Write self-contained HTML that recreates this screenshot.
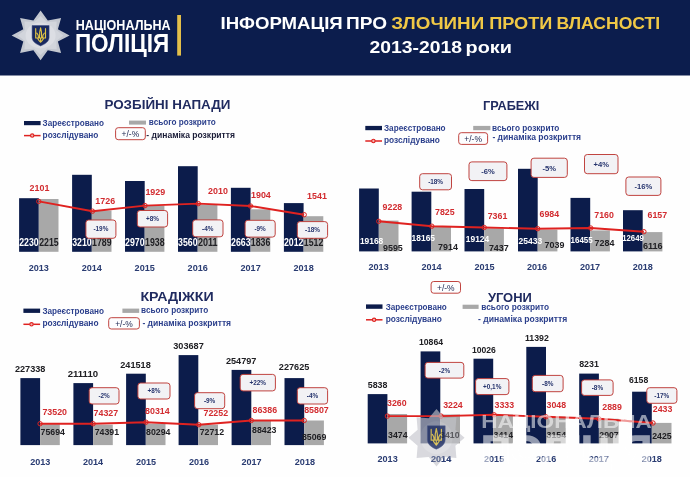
<!DOCTYPE html>
<html lang="uk"><head><meta charset="utf-8"><title>Інформація про злочини проти власності</title>
<style>html,body{margin:0;padding:0;background:#fff}svg{display:block}</style></head>
<body>
<svg width="690" height="477" viewBox="0 0 690 477" font-family="Liberation Sans, sans-serif">
<rect width="690" height="477" fill="#fefefe"/>
<rect width="690" height="75.5" fill="#0c1d4d"/>
<polygon points="40.6,10.6 47.8,20.6 61.1,17.9 57.9,29.3 69.6,35.4 57.9,41.5 61.1,52.9 47.8,50.2 40.6,60.2 33.4,50.2 20.1,52.9 23.3,41.5 11.6,35.4 23.3,29.3 20.1,17.9 33.4,20.6" fill="#c3c7d0"/>
<polygon points="40.6,15.9 47.1,22.0 56.7,21.6 56.3,29.9 63.4,35.4 56.3,40.9 56.7,49.2 47.1,48.8 40.6,54.9 34.1,48.8 24.5,49.2 24.9,40.9 17.8,35.4 24.9,29.9 24.5,21.6 34.1,22.0" fill="#d2d5dc"/>
<ellipse cx="40.6" cy="35.4" rx="15" ry="13" fill="#dcdee4"/>
<path d="M32.1 25.5H49.1V37.3C49.1 42.2 44.0 44.5 40.6 45.9C37.2 44.5 32.1 42.2 32.1 37.3Z" fill="#1a2a60" stroke="#3a4a82" stroke-width="0.5"/>
<g transform="translate(40.60 27.54) scale(0.907 0.918)"><path d="M-5.4 1.2V11.4H-2.3C-2.2 9.2-2.7 7.4-4.1 6.1M5.4 1.2V11.4H2.3C2.2 9.2 2.700 7.4 4.1 6.1M0 0.4C-1 3.400-1.400 7-1.200 11.4H1.200C1.400 7 1 3.400 0 0.4ZM-3.300 11.4C-3.100 13.4-1.500 14.100 0 16C1.500 14.100 3.100 13.4 3.300 11.4M0 12.300V15" fill="none" stroke="#e2c544" stroke-width="1.25" stroke-linejoin="round" stroke-linecap="round"/></g>
<text x="75.8" y="29.9" font-size="14.2" fill="#fff" text-anchor="start" font-weight="bold" textLength="94.8" lengthAdjust="spacingAndGlyphs">НАЦІОНАЛЬНА</text>
<text x="74.9" y="51.5" font-size="25.4" fill="#fff" text-anchor="start" font-weight="bold" textLength="94.3" lengthAdjust="spacingAndGlyphs">ПОЛІЦІЯ</text>
<rect x="177.2" y="15.0" width="3.8" height="40.6" fill="#e3bf4a"/>
<text x="220.5" y="28.9" font-size="17" fill="#fff" text-anchor="start" font-weight="bold" textLength="122.2" lengthAdjust="spacingAndGlyphs">ІНФОРМАЦІЯ</text>
<text x="346.0" y="28.9" font-size="17" fill="#fff" text-anchor="start" font-weight="bold" textLength="41.0" lengthAdjust="spacingAndGlyphs">ПРО</text>
<text x="391.3" y="28.9" font-size="17" fill="#f0c846" text-anchor="start" font-weight="bold" textLength="92.9" lengthAdjust="spacingAndGlyphs">ЗЛОЧИНИ</text>
<text x="489.2" y="28.9" font-size="17" fill="#f0c846" text-anchor="start" font-weight="bold" textLength="63.2" lengthAdjust="spacingAndGlyphs">ПРОТИ</text>
<text x="556.4" y="28.9" font-size="17" fill="#f0c846" text-anchor="start" font-weight="bold" textLength="103.8" lengthAdjust="spacingAndGlyphs">ВЛАСНОСТІ</text>
<text x="369.6" y="53.3" font-size="17" fill="#fff" text-anchor="start" font-weight="bold" textLength="92.4" lengthAdjust="spacingAndGlyphs">2013-2018</text>
<text x="465.5" y="53.3" font-size="17" fill="#fff" text-anchor="start" font-weight="bold" textLength="46.4" lengthAdjust="spacingAndGlyphs">роки</text>
<text x="104.4" y="109.0" font-size="13.7" fill="#202b60" text-anchor="start" font-weight="bold" textLength="126.1" lengthAdjust="spacingAndGlyphs">РОЗБІЙНІ НАПАДИ</text>
<rect x="24.0" y="121.0" width="16.6" height="4.2" fill="#0c1c4b"/>
<rect x="129.0" y="120.6" width="17.0" height="4.0" fill="#a8a8a8"/>
<line x1="24" y1="135.6" x2="40.6" y2="135.6" stroke="#df2220" stroke-width="1.5"/>
<circle cx="32.2" cy="135.6" r="1.7" fill="#f3b4b0" stroke="#df2220" stroke-width="1.1"/>
<text x="42.6" y="126.3" font-size="9" fill="#2b3f8c" text-anchor="start" font-weight="bold" textLength="61.4" lengthAdjust="spacingAndGlyphs">Зареєстровано</text>
<text x="148.8" y="125.2" font-size="9" fill="#2b3f8c" text-anchor="start" font-weight="bold" textLength="67.0" lengthAdjust="spacingAndGlyphs">всього розкрито</text>
<text x="42.6" y="137.7" font-size="9" fill="#2b3f8c" text-anchor="start" font-weight="bold" textLength="55.8" lengthAdjust="spacingAndGlyphs">розслідувано</text>
<text x="146.3" y="138.0" font-size="8.5" fill="#1b1d38" text-anchor="start" font-weight="bold" textLength="88.7" lengthAdjust="spacingAndGlyphs">- динаміка розкриття</text>
<rect x="115.6" y="127.7" width="29.7" height="12.0" rx="2.6" fill="#fdfdfe" stroke="#bd3a36" stroke-width="0.95"/>
<text x="130.4" y="137.1" font-size="8.8" fill="#1a2450" text-anchor="middle" font-weight="normal" textLength="17.6" lengthAdjust="spacingAndGlyphs">+/-%</text>
<rect x="19.1" y="198.2" width="19.7" height="53.6" fill="#0c1c4b"/>
<rect x="72.1" y="174.8" width="19.7" height="77.0" fill="#0c1c4b"/>
<rect x="125.0" y="181.0" width="19.7" height="70.8" fill="#0c1c4b"/>
<rect x="178.0" y="166.2" width="19.7" height="85.6" fill="#0c1c4b"/>
<rect x="230.9" y="187.8" width="19.7" height="64.0" fill="#0c1c4b"/>
<rect x="283.9" y="203.1" width="19.7" height="48.7" fill="#0c1c4b"/>
<rect x="38.8" y="199.0" width="19.7" height="52.8" fill="#a8a8a8"/>
<rect x="91.8" y="210.5" width="19.7" height="41.3" fill="#a8a8a8"/>
<rect x="144.7" y="205.6" width="19.7" height="46.2" fill="#a8a8a8"/>
<rect x="197.7" y="204.6" width="19.7" height="47.2" fill="#a8a8a8"/>
<rect x="250.6" y="209.3" width="19.7" height="42.5" fill="#a8a8a8"/>
<rect x="303.6" y="216.2" width="19.7" height="35.6" fill="#a8a8a8"/>
<polyline points="38.8,201.4 92.5,211.2 145.0,205.6 198.3,203.6 250.5,206.0 304.2,214.7" fill="none" stroke="#df2220" stroke-width="1.9" stroke-linejoin="round"/>
<circle cx="38.8" cy="201.4" r="2.2" fill="none" stroke="#df2220" stroke-width="1"/>
<circle cx="92.5" cy="211.2" r="2.2" fill="none" stroke="#df2220" stroke-width="1"/>
<circle cx="145.0" cy="205.6" r="2.2" fill="none" stroke="#df2220" stroke-width="1"/>
<circle cx="198.3" cy="203.6" r="2.2" fill="none" stroke="#df2220" stroke-width="1"/>
<circle cx="250.5" cy="206.0" r="2.2" fill="none" stroke="#df2220" stroke-width="1"/>
<circle cx="304.2" cy="214.7" r="2.2" fill="none" stroke="#df2220" stroke-width="1"/>
<text x="29.0" y="245.7" font-size="10.3" fill="#fff" text-anchor="middle" font-weight="bold" textLength="19.5" lengthAdjust="spacingAndGlyphs">2230</text>
<text x="48.9" y="245.7" font-size="10.3" fill="#202024" text-anchor="middle" font-weight="bold" textLength="19.5" lengthAdjust="spacingAndGlyphs">2215</text>
<text x="81.9" y="245.7" font-size="10.3" fill="#fff" text-anchor="middle" font-weight="bold" textLength="19.5" lengthAdjust="spacingAndGlyphs">3210</text>
<text x="101.8" y="245.7" font-size="10.3" fill="#202024" text-anchor="middle" font-weight="bold" textLength="19.5" lengthAdjust="spacingAndGlyphs">1789</text>
<text x="134.8" y="245.7" font-size="10.3" fill="#fff" text-anchor="middle" font-weight="bold" textLength="19.5" lengthAdjust="spacingAndGlyphs">2970</text>
<text x="154.8" y="245.7" font-size="10.3" fill="#202024" text-anchor="middle" font-weight="bold" textLength="19.5" lengthAdjust="spacingAndGlyphs">1938</text>
<text x="187.8" y="245.7" font-size="10.3" fill="#fff" text-anchor="middle" font-weight="bold" textLength="19.5" lengthAdjust="spacingAndGlyphs">3560</text>
<text x="207.7" y="245.7" font-size="10.3" fill="#202024" text-anchor="middle" font-weight="bold" textLength="19.5" lengthAdjust="spacingAndGlyphs">2011</text>
<text x="240.8" y="245.7" font-size="10.3" fill="#fff" text-anchor="middle" font-weight="bold" textLength="19.5" lengthAdjust="spacingAndGlyphs">2663</text>
<text x="260.6" y="245.7" font-size="10.3" fill="#202024" text-anchor="middle" font-weight="bold" textLength="19.5" lengthAdjust="spacingAndGlyphs">1836</text>
<text x="293.7" y="245.7" font-size="10.3" fill="#fff" text-anchor="middle" font-weight="bold" textLength="19.5" lengthAdjust="spacingAndGlyphs">2012</text>
<text x="313.6" y="245.7" font-size="10.3" fill="#202024" text-anchor="middle" font-weight="bold" textLength="19.5" lengthAdjust="spacingAndGlyphs">1512</text>
<text x="39.5" y="190.7" font-size="9.6" fill="#d22c30" text-anchor="middle" font-weight="bold" textLength="19.8" lengthAdjust="spacingAndGlyphs">2101</text>
<text x="105.2" y="203.8" font-size="9.6" fill="#d22c30" text-anchor="middle" font-weight="bold" textLength="19.8" lengthAdjust="spacingAndGlyphs">1726</text>
<text x="155.3" y="194.6" font-size="9.6" fill="#d22c30" text-anchor="middle" font-weight="bold" textLength="19.8" lengthAdjust="spacingAndGlyphs">1929</text>
<text x="218.0" y="193.8" font-size="9.6" fill="#d22c30" text-anchor="middle" font-weight="bold" textLength="19.8" lengthAdjust="spacingAndGlyphs">2010</text>
<text x="260.9" y="197.5" font-size="9.6" fill="#d22c30" text-anchor="middle" font-weight="bold" textLength="19.8" lengthAdjust="spacingAndGlyphs">1904</text>
<text x="317.0" y="198.9" font-size="9.6" fill="#d22c30" text-anchor="middle" font-weight="bold" textLength="19.8" lengthAdjust="spacingAndGlyphs">1541</text>
<rect x="85.9" y="220.0" width="30.0" height="18.3" rx="2.8" fill="#f2f2f5" stroke="#bd3a36" stroke-width="0.95"/>
<text x="100.9" y="231.4" font-size="6.4" fill="#27356e" text-anchor="middle" font-weight="bold">-19%</text>
<rect x="137.3" y="210.5" width="30.3" height="16.5" rx="2.8" fill="#f2f2f5" stroke="#bd3a36" stroke-width="0.95"/>
<text x="152.4" y="221.0" font-size="6.4" fill="#27356e" text-anchor="middle" font-weight="bold">+8%</text>
<rect x="192.7" y="219.9" width="30.3" height="16.9" rx="2.8" fill="#f2f2f5" stroke="#bd3a36" stroke-width="0.95"/>
<text x="207.8" y="230.6" font-size="6.4" fill="#27356e" text-anchor="middle" font-weight="bold">-4%</text>
<rect x="245.1" y="220.3" width="30.1" height="16.8" rx="2.8" fill="#f2f2f5" stroke="#bd3a36" stroke-width="0.95"/>
<text x="260.1" y="231.0" font-size="6.4" fill="#27356e" text-anchor="middle" font-weight="bold">-9%</text>
<rect x="297.3" y="221.6" width="30.3" height="16.7" rx="2.8" fill="#f2f2f5" stroke="#bd3a36" stroke-width="0.95"/>
<text x="312.5" y="232.2" font-size="6.4" fill="#27356e" text-anchor="middle" font-weight="bold">-18%</text>
<text x="38.8" y="270.9" font-size="9.3" fill="#2a3c72" text-anchor="middle" font-weight="bold" textLength="20.2" lengthAdjust="spacingAndGlyphs">2013</text>
<text x="91.8" y="270.9" font-size="9.3" fill="#2a3c72" text-anchor="middle" font-weight="bold" textLength="20.2" lengthAdjust="spacingAndGlyphs">2014</text>
<text x="144.7" y="270.9" font-size="9.3" fill="#2a3c72" text-anchor="middle" font-weight="bold" textLength="20.2" lengthAdjust="spacingAndGlyphs">2015</text>
<text x="197.7" y="270.9" font-size="9.3" fill="#2a3c72" text-anchor="middle" font-weight="bold" textLength="20.2" lengthAdjust="spacingAndGlyphs">2016</text>
<text x="250.6" y="270.9" font-size="9.3" fill="#2a3c72" text-anchor="middle" font-weight="bold" textLength="20.2" lengthAdjust="spacingAndGlyphs">2017</text>
<text x="303.6" y="270.9" font-size="9.3" fill="#2a3c72" text-anchor="middle" font-weight="bold" textLength="20.2" lengthAdjust="spacingAndGlyphs">2018</text>
<text x="483.0" y="109.9" font-size="13.7" fill="#202b60" text-anchor="start" font-weight="bold" textLength="56.2" lengthAdjust="spacingAndGlyphs">ГРАБЕЖІ</text>
<rect x="365.3" y="125.9" width="16.7" height="4.3" fill="#0c1c4b"/>
<rect x="473.2" y="125.9" width="17.2" height="4.3" fill="#a8a8a8"/>
<line x1="365.3" y1="141" x2="382" y2="141" stroke="#df2220" stroke-width="1.5"/>
<circle cx="373.4" cy="141" r="1.7" fill="#f3b4b0" stroke="#df2220" stroke-width="1.1"/>
<text x="384.0" y="131.4" font-size="9" fill="#2b3f8c" text-anchor="start" font-weight="bold" textLength="61.6" lengthAdjust="spacingAndGlyphs">Зареєстровано</text>
<text x="492.1" y="130.6" font-size="9" fill="#2b3f8c" text-anchor="start" font-weight="bold" textLength="67.3" lengthAdjust="spacingAndGlyphs">всього розкрито</text>
<text x="384.0" y="143.0" font-size="9" fill="#2b3f8c" text-anchor="start" font-weight="bold" textLength="55.9" lengthAdjust="spacingAndGlyphs">розслідувано</text>
<text x="492.4" y="140.0" font-size="8.5" fill="#2b3f8c" text-anchor="start" font-weight="bold" textLength="88.7" lengthAdjust="spacingAndGlyphs">- динаміка розкриття</text>
<rect x="458.7" y="132.7" width="28.9" height="11.7" rx="2.6" fill="#fdfdfe" stroke="#bd3a36" stroke-width="0.95"/>
<text x="473.1" y="141.9" font-size="8.8" fill="#1a2450" text-anchor="middle" font-weight="normal" textLength="17.6" lengthAdjust="spacingAndGlyphs">+/-%</text>
<rect x="359.1" y="188.5" width="19.7" height="62.9" fill="#0c1c4b"/>
<rect x="411.6" y="191.7" width="19.7" height="59.7" fill="#0c1c4b"/>
<rect x="464.5" y="189.0" width="19.7" height="62.4" fill="#0c1c4b"/>
<rect x="518.0" y="168.8" width="19.7" height="82.6" fill="#0c1c4b"/>
<rect x="570.5" y="197.9" width="19.7" height="53.5" fill="#0c1c4b"/>
<rect x="623.0" y="210.2" width="19.7" height="41.2" fill="#0c1c4b"/>
<rect x="378.8" y="220.6" width="19.7" height="30.8" fill="#a8a8a8"/>
<rect x="431.3" y="226.7" width="19.7" height="24.7" fill="#a8a8a8"/>
<rect x="484.2" y="228.4" width="19.7" height="23.0" fill="#a8a8a8"/>
<rect x="537.7" y="229.7" width="19.7" height="21.7" fill="#a8a8a8"/>
<rect x="590.2" y="230.4" width="19.7" height="21.0" fill="#a8a8a8"/>
<rect x="642.7" y="232.1" width="19.7" height="19.3" fill="#a8a8a8"/>
<polyline points="378.8,221.3 431.8,226.2 484.2,227.5 537.7,228.7 590.7,228.0 643.9,231.7" fill="none" stroke="#df2220" stroke-width="1.9" stroke-linejoin="round"/>
<circle cx="378.8" cy="221.3" r="2.2" fill="none" stroke="#df2220" stroke-width="1"/>
<circle cx="431.8" cy="226.2" r="2.2" fill="none" stroke="#df2220" stroke-width="1"/>
<circle cx="484.2" cy="227.5" r="2.2" fill="none" stroke="#df2220" stroke-width="1"/>
<circle cx="537.7" cy="228.7" r="2.2" fill="none" stroke="#df2220" stroke-width="1"/>
<circle cx="590.7" cy="228.0" r="2.2" fill="none" stroke="#df2220" stroke-width="1"/>
<circle cx="643.9" cy="231.7" r="2.2" fill="none" stroke="#df2220" stroke-width="1"/>
<text x="359.9" y="243.6" font-size="9.6" fill="#fff" text-anchor="start" font-weight="bold" textLength="23.4" lengthAdjust="spacingAndGlyphs">19168</text>
<text x="411.6" y="240.9" font-size="9.6" fill="#fff" text-anchor="start" font-weight="bold" textLength="23.4" lengthAdjust="spacingAndGlyphs">18165</text>
<text x="465.8" y="242.1" font-size="9.6" fill="#fff" text-anchor="start" font-weight="bold" textLength="23.4" lengthAdjust="spacingAndGlyphs">19124</text>
<text x="518.5" y="243.9" font-size="9.6" fill="#fff" text-anchor="start" font-weight="bold" textLength="23.7" lengthAdjust="spacingAndGlyphs">25433</text>
<text x="570.5" y="243.4" font-size="9.6" fill="#fff" text-anchor="start" font-weight="bold" textLength="22.2" lengthAdjust="spacingAndGlyphs">16455</text>
<text x="622.2" y="241.0" font-size="9.6" fill="#fff" text-anchor="start" font-weight="bold" textLength="21.7" lengthAdjust="spacingAndGlyphs">12649</text>
<text x="392.9" y="251.4" font-size="9.6" fill="#202024" text-anchor="middle" font-weight="bold" textLength="19.8" lengthAdjust="spacingAndGlyphs">9595</text>
<text x="448.0" y="250.2" font-size="9.6" fill="#202024" text-anchor="middle" font-weight="bold" textLength="19.8" lengthAdjust="spacingAndGlyphs">7914</text>
<text x="498.8" y="251.4" font-size="9.6" fill="#202024" text-anchor="middle" font-weight="bold" textLength="19.8" lengthAdjust="spacingAndGlyphs">7437</text>
<text x="554.5" y="248.4" font-size="9.6" fill="#202024" text-anchor="middle" font-weight="bold" textLength="19.8" lengthAdjust="spacingAndGlyphs">7039</text>
<text x="604.5" y="246.4" font-size="9.6" fill="#202024" text-anchor="middle" font-weight="bold" textLength="19.8" lengthAdjust="spacingAndGlyphs">7284</text>
<text x="652.8" y="248.9" font-size="9.6" fill="#202024" text-anchor="middle" font-weight="bold" textLength="19.8" lengthAdjust="spacingAndGlyphs">6116</text>
<text x="392.4" y="210.0" font-size="9.6" fill="#d22c30" text-anchor="middle" font-weight="bold" textLength="19.6" lengthAdjust="spacingAndGlyphs">9228</text>
<text x="444.8" y="215.0" font-size="9.6" fill="#d22c30" text-anchor="middle" font-weight="bold" textLength="19.6" lengthAdjust="spacingAndGlyphs">7825</text>
<text x="497.5" y="218.9" font-size="9.6" fill="#d22c30" text-anchor="middle" font-weight="bold" textLength="19.6" lengthAdjust="spacingAndGlyphs">7361</text>
<text x="549.3" y="216.9" font-size="9.6" fill="#d22c30" text-anchor="middle" font-weight="bold" textLength="19.6" lengthAdjust="spacingAndGlyphs">6984</text>
<text x="604.1" y="217.7" font-size="9.6" fill="#d22c30" text-anchor="middle" font-weight="bold" textLength="19.6" lengthAdjust="spacingAndGlyphs">7160</text>
<text x="657.3" y="218.3" font-size="9.6" fill="#d22c30" text-anchor="middle" font-weight="bold" textLength="19.6" lengthAdjust="spacingAndGlyphs">6157</text>
<rect x="419.7" y="173.7" width="31.8" height="16.1" rx="2.8" fill="#f2f2f5" stroke="#bd3a36" stroke-width="0.95"/>
<text x="435.6" y="184.0" font-size="6.4" fill="#27356e" text-anchor="middle" font-weight="bold">-18%</text>
<rect x="469.0" y="161.9" width="37.9" height="18.7" rx="2.8" fill="#f2f2f5" stroke="#bd3a36" stroke-width="0.95"/>
<text x="487.9" y="174.0" font-size="7.6" fill="#27356e" text-anchor="middle" font-weight="bold">-6%</text>
<rect x="531.1" y="158.2" width="36.2" height="19.2" rx="2.8" fill="#f2f2f5" stroke="#bd3a36" stroke-width="0.95"/>
<text x="549.2" y="170.5" font-size="7.6" fill="#27356e" text-anchor="middle" font-weight="bold">-5%</text>
<rect x="584.5" y="154.5" width="33.5" height="19.2" rx="2.8" fill="#f2f2f5" stroke="#bd3a36" stroke-width="0.95"/>
<text x="601.2" y="166.8" font-size="7.6" fill="#27356e" text-anchor="middle" font-weight="bold">+4%</text>
<rect x="625.9" y="177.0" width="35.0" height="18.4" rx="2.8" fill="#f2f2f5" stroke="#bd3a36" stroke-width="0.95"/>
<text x="643.4" y="188.9" font-size="7.6" fill="#27356e" text-anchor="middle" font-weight="bold">-16%</text>
<text x="378.6" y="270.4" font-size="9.3" fill="#2a3c72" text-anchor="middle" font-weight="bold" textLength="20.2" lengthAdjust="spacingAndGlyphs">2013</text>
<text x="431.5" y="270.4" font-size="9.3" fill="#2a3c72" text-anchor="middle" font-weight="bold" textLength="20.2" lengthAdjust="spacingAndGlyphs">2014</text>
<text x="484.5" y="270.4" font-size="9.3" fill="#2a3c72" text-anchor="middle" font-weight="bold" textLength="20.2" lengthAdjust="spacingAndGlyphs">2015</text>
<text x="537.0" y="270.4" font-size="9.3" fill="#2a3c72" text-anchor="middle" font-weight="bold" textLength="20.2" lengthAdjust="spacingAndGlyphs">2016</text>
<text x="590.0" y="270.4" font-size="9.3" fill="#2a3c72" text-anchor="middle" font-weight="bold" textLength="20.2" lengthAdjust="spacingAndGlyphs">2017</text>
<text x="642.8" y="270.4" font-size="9.3" fill="#2a3c72" text-anchor="middle" font-weight="bold" textLength="20.2" lengthAdjust="spacingAndGlyphs">2018</text>
<text x="140.4" y="300.9" font-size="13.7" fill="#202b60" text-anchor="start" font-weight="bold" textLength="73.2" lengthAdjust="spacingAndGlyphs">КРАДІЖКИ</text>
<rect x="23.4" y="308.6" width="16.7" height="4.3" fill="#0c1c4b"/>
<rect x="122.4" y="308.6" width="16.8" height="4.3" fill="#a8a8a8"/>
<line x1="23.4" y1="324.3" x2="40.1" y2="324.3" stroke="#df2220" stroke-width="1.5"/>
<circle cx="31.5" cy="324.3" r="1.7" fill="#f3b4b0" stroke="#df2220" stroke-width="1.1"/>
<text x="42.4" y="314.0" font-size="9" fill="#2b3f8c" text-anchor="start" font-weight="bold" textLength="61.5" lengthAdjust="spacingAndGlyphs">Зареєстровано</text>
<text x="141.1" y="313.3" font-size="9" fill="#2b3f8c" text-anchor="start" font-weight="bold" textLength="67.1" lengthAdjust="spacingAndGlyphs">всього розкрито</text>
<text x="42.4" y="326.3" font-size="9" fill="#2b3f8c" text-anchor="start" font-weight="bold" textLength="56.1" lengthAdjust="spacingAndGlyphs">розслідувано</text>
<text x="142.4" y="325.6" font-size="8.5" fill="#2b3f8c" text-anchor="start" font-weight="bold" textLength="88.7" lengthAdjust="spacingAndGlyphs">- динаміка розкриття</text>
<rect x="108.7" y="317.7" width="30.7" height="11.3" rx="2.6" fill="#fdfdfe" stroke="#bd3a36" stroke-width="0.95"/>
<text x="124.0" y="326.7" font-size="8.8" fill="#1a2450" text-anchor="middle" font-weight="normal" textLength="17.6" lengthAdjust="spacingAndGlyphs">+/-%</text>
<rect x="20.4" y="378.1" width="19.7" height="67.0" fill="#0c1c4b"/>
<rect x="73.4" y="383.1" width="19.7" height="62.0" fill="#0c1c4b"/>
<rect x="126.1" y="373.7" width="19.7" height="71.4" fill="#0c1c4b"/>
<rect x="178.6" y="355.1" width="19.7" height="90.0" fill="#0c1c4b"/>
<rect x="231.6" y="369.9" width="19.7" height="75.2" fill="#0c1c4b"/>
<rect x="284.5" y="378.1" width="19.7" height="67.0" fill="#0c1c4b"/>
<rect x="40.1" y="424.2" width="19.7" height="20.9" fill="#a8a8a8"/>
<rect x="93.1" y="424.7" width="19.7" height="20.4" fill="#a8a8a8"/>
<rect x="145.8" y="423.7" width="19.7" height="21.4" fill="#a8a8a8"/>
<rect x="198.3" y="424.7" width="19.7" height="20.4" fill="#a8a8a8"/>
<rect x="251.3" y="420.5" width="19.7" height="24.6" fill="#a8a8a8"/>
<rect x="304.2" y="420.5" width="19.7" height="24.6" fill="#a8a8a8"/>
<polyline points="40.1,423.7 93.1,423.7 146.0,422.2 198.8,424.7 251.3,420.5 304.2,420.5" fill="none" stroke="#df2220" stroke-width="1.9" stroke-linejoin="round"/>
<circle cx="40.1" cy="423.7" r="2.2" fill="none" stroke="#df2220" stroke-width="1"/>
<circle cx="93.1" cy="423.7" r="2.2" fill="none" stroke="#df2220" stroke-width="1"/>
<circle cx="146.0" cy="422.2" r="2.2" fill="none" stroke="#df2220" stroke-width="1"/>
<circle cx="198.8" cy="424.7" r="2.2" fill="none" stroke="#df2220" stroke-width="1"/>
<circle cx="251.3" cy="420.5" r="2.2" fill="none" stroke="#df2220" stroke-width="1"/>
<circle cx="304.2" cy="420.5" r="2.2" fill="none" stroke="#df2220" stroke-width="1"/>
<text x="30.2" y="372.0" font-size="9.2" fill="#202024" text-anchor="middle" font-weight="bold" textLength="30.5" lengthAdjust="spacingAndGlyphs">227338</text>
<text x="82.9" y="376.9" font-size="9.2" fill="#202024" text-anchor="middle" font-weight="bold" textLength="30.5" lengthAdjust="spacingAndGlyphs">211110</text>
<text x="135.5" y="367.9" font-size="9.2" fill="#202024" text-anchor="middle" font-weight="bold" textLength="30.5" lengthAdjust="spacingAndGlyphs">241518</text>
<text x="188.5" y="349.4" font-size="9.2" fill="#202024" text-anchor="middle" font-weight="bold" textLength="30.5" lengthAdjust="spacingAndGlyphs">303687</text>
<text x="241.2" y="363.7" font-size="9.2" fill="#202024" text-anchor="middle" font-weight="bold" textLength="30.5" lengthAdjust="spacingAndGlyphs">254797</text>
<text x="294.1" y="370.4" font-size="9.2" fill="#202024" text-anchor="middle" font-weight="bold" textLength="30.5" lengthAdjust="spacingAndGlyphs">227625</text>
<text x="52.7" y="434.6" font-size="9.4" fill="#202024" text-anchor="middle" font-weight="bold" textLength="24.4" lengthAdjust="spacingAndGlyphs">75694</text>
<text x="106.9" y="435.4" font-size="9.4" fill="#202024" text-anchor="middle" font-weight="bold" textLength="24.4" lengthAdjust="spacingAndGlyphs">74391</text>
<text x="158.3" y="435.4" font-size="9.4" fill="#202024" text-anchor="middle" font-weight="bold" textLength="24.4" lengthAdjust="spacingAndGlyphs">80294</text>
<text x="211.9" y="435.4" font-size="9.4" fill="#202024" text-anchor="middle" font-weight="bold" textLength="24.4" lengthAdjust="spacingAndGlyphs">72712</text>
<text x="264.2" y="433.4" font-size="9.4" fill="#202024" text-anchor="middle" font-weight="bold" textLength="24.4" lengthAdjust="spacingAndGlyphs">88423</text>
<text x="314.1" y="439.5" font-size="9.4" fill="#202024" text-anchor="middle" font-weight="bold" textLength="24.4" lengthAdjust="spacingAndGlyphs">85069</text>
<text x="54.7" y="415.0" font-size="9.6" fill="#d22c30" text-anchor="middle" font-weight="bold" textLength="24.6" lengthAdjust="spacingAndGlyphs">73520</text>
<text x="105.9" y="415.6" font-size="9.6" fill="#d22c30" text-anchor="middle" font-weight="bold" textLength="24.6" lengthAdjust="spacingAndGlyphs">74327</text>
<text x="157.4" y="414.4" font-size="9.6" fill="#d22c30" text-anchor="middle" font-weight="bold" textLength="24.6" lengthAdjust="spacingAndGlyphs">80314</text>
<text x="215.8" y="415.6" font-size="9.6" fill="#d22c30" text-anchor="middle" font-weight="bold" textLength="24.6" lengthAdjust="spacingAndGlyphs">72252</text>
<text x="264.8" y="413.2" font-size="9.6" fill="#d22c30" text-anchor="middle" font-weight="bold" textLength="24.6" lengthAdjust="spacingAndGlyphs">86386</text>
<text x="316.5" y="413.2" font-size="9.6" fill="#d22c30" text-anchor="middle" font-weight="bold" textLength="24.6" lengthAdjust="spacingAndGlyphs">85807</text>
<rect x="89.2" y="387.7" width="29.8" height="16.3" rx="2.8" fill="#f2f2f5" stroke="#bd3a36" stroke-width="0.95"/>
<text x="104.1" y="398.1" font-size="6.4" fill="#27356e" text-anchor="middle" font-weight="bold">-2%</text>
<rect x="137.9" y="383.0" width="32.1" height="16.0" rx="2.8" fill="#f2f2f5" stroke="#bd3a36" stroke-width="0.95"/>
<text x="153.9" y="393.3" font-size="6.4" fill="#27356e" text-anchor="middle" font-weight="bold">+8%</text>
<rect x="194.6" y="392.7" width="30.1" height="16.0" rx="2.8" fill="#f2f2f5" stroke="#bd3a36" stroke-width="0.95"/>
<text x="209.6" y="403.0" font-size="6.4" fill="#27356e" text-anchor="middle" font-weight="bold">-9%</text>
<rect x="240.2" y="374.4" width="35.2" height="16.5" rx="2.8" fill="#f2f2f5" stroke="#bd3a36" stroke-width="0.95"/>
<text x="257.8" y="384.9" font-size="6.4" fill="#27356e" text-anchor="middle" font-weight="bold">+22%</text>
<rect x="297.3" y="387.7" width="30.3" height="16.3" rx="2.8" fill="#f2f2f5" stroke="#bd3a36" stroke-width="0.95"/>
<text x="312.5" y="398.1" font-size="6.4" fill="#27356e" text-anchor="middle" font-weight="bold">-4%</text>
<text x="40.3" y="464.8" font-size="9.3" fill="#2a3c72" text-anchor="middle" font-weight="bold" textLength="20.2" lengthAdjust="spacingAndGlyphs">2013</text>
<text x="93.0" y="464.8" font-size="9.3" fill="#2a3c72" text-anchor="middle" font-weight="bold" textLength="20.2" lengthAdjust="spacingAndGlyphs">2014</text>
<text x="146.0" y="464.8" font-size="9.3" fill="#2a3c72" text-anchor="middle" font-weight="bold" textLength="20.2" lengthAdjust="spacingAndGlyphs">2015</text>
<text x="199.0" y="464.8" font-size="9.3" fill="#2a3c72" text-anchor="middle" font-weight="bold" textLength="20.2" lengthAdjust="spacingAndGlyphs">2016</text>
<text x="251.5" y="464.8" font-size="9.3" fill="#2a3c72" text-anchor="middle" font-weight="bold" textLength="20.2" lengthAdjust="spacingAndGlyphs">2017</text>
<text x="304.9" y="464.8" font-size="9.3" fill="#2a3c72" text-anchor="middle" font-weight="bold" textLength="20.2" lengthAdjust="spacingAndGlyphs">2018</text>
<text x="487.9" y="302.1" font-size="13.7" fill="#202b60" text-anchor="start" font-weight="bold" textLength="43.9" lengthAdjust="spacingAndGlyphs">УГОНИ</text>
<rect x="431.1" y="281.5" width="29.4" height="11.7" rx="2.6" fill="#fdfdfe" stroke="#bd3a36" stroke-width="0.95"/>
<text x="445.8" y="290.7" font-size="8.8" fill="#1a2450" text-anchor="middle" font-weight="normal" textLength="17.6" lengthAdjust="spacingAndGlyphs">+/-%</text>
<rect x="366.0" y="304.4" width="16.5" height="4.4" fill="#0c1c4b"/>
<rect x="462.6" y="304.7" width="16.0" height="4.2" fill="#a8a8a8"/>
<line x1="366" y1="319.8" x2="382.5" y2="319.8" stroke="#df2220" stroke-width="1.5"/>
<circle cx="374.1" cy="319.8" r="1.7" fill="#f3b4b0" stroke="#df2220" stroke-width="1.1"/>
<text x="385.7" y="310.0" font-size="9" fill="#2b3f8c" text-anchor="start" font-weight="bold" textLength="61.1" lengthAdjust="spacingAndGlyphs">Зареєстровано</text>
<text x="481.3" y="309.5" font-size="9" fill="#2b3f8c" text-anchor="start" font-weight="bold" textLength="67.8" lengthAdjust="spacingAndGlyphs">всього розкрито</text>
<text x="385.7" y="321.8" font-size="9" fill="#2b3f8c" text-anchor="start" font-weight="bold" textLength="56.2" lengthAdjust="spacingAndGlyphs">розслідувано</text>
<text x="478.1" y="322.3" font-size="8.5" fill="#2b3f8c" text-anchor="start" font-weight="bold" textLength="89.2" lengthAdjust="spacingAndGlyphs">- динаміка розкриття</text>
<rect x="367.7" y="394.1" width="19.7" height="49.3" fill="#0c1c4b"/>
<rect x="420.6" y="351.4" width="19.7" height="92.0" fill="#0c1c4b"/>
<rect x="473.5" y="358.7" width="19.7" height="84.7" fill="#0c1c4b"/>
<rect x="526.3" y="346.9" width="19.7" height="96.5" fill="#0c1c4b"/>
<rect x="579.2" y="373.6" width="19.7" height="69.8" fill="#0c1c4b"/>
<rect x="632.1" y="391.7" width="19.7" height="51.7" fill="#0c1c4b"/>
<rect x="387.4" y="414.0" width="19.7" height="29.4" fill="#a8a8a8"/>
<rect x="440.3" y="414.5" width="19.7" height="28.9" fill="#a8a8a8"/>
<rect x="493.2" y="414.5" width="19.7" height="28.9" fill="#a8a8a8"/>
<rect x="546.0" y="416.7" width="19.7" height="26.7" fill="#a8a8a8"/>
<rect x="598.9" y="418.8" width="19.7" height="24.6" fill="#a8a8a8"/>
<rect x="651.8" y="422.9" width="19.7" height="20.5" fill="#a8a8a8"/>
<polyline points="387.4,416.1 441.1,416.1 494.1,414.8 545.9,416.8 598.8,418.8 653.0,423.0" fill="none" stroke="#df2220" stroke-width="1.9" stroke-linejoin="round"/>
<circle cx="387.4" cy="416.1" r="2.2" fill="none" stroke="#df2220" stroke-width="1"/>
<circle cx="441.1" cy="416.1" r="2.2" fill="none" stroke="#df2220" stroke-width="1"/>
<circle cx="494.1" cy="414.8" r="2.2" fill="none" stroke="#df2220" stroke-width="1"/>
<circle cx="545.9" cy="416.8" r="2.2" fill="none" stroke="#df2220" stroke-width="1"/>
<circle cx="598.8" cy="418.8" r="2.2" fill="none" stroke="#df2220" stroke-width="1"/>
<circle cx="653.0" cy="423.0" r="2.2" fill="none" stroke="#df2220" stroke-width="1"/>
<text x="377.6" y="387.7" font-size="9.2" fill="#202024" text-anchor="middle" font-weight="bold" textLength="19.7" lengthAdjust="spacingAndGlyphs">5838</text>
<text x="431.0" y="344.8" font-size="9.2" fill="#202024" text-anchor="middle" font-weight="bold" textLength="24.1" lengthAdjust="spacingAndGlyphs">10864</text>
<text x="483.9" y="352.6" font-size="9.2" fill="#202024" text-anchor="middle" font-weight="bold" textLength="23.9" lengthAdjust="spacingAndGlyphs">10026</text>
<text x="536.9" y="340.7" font-size="9.2" fill="#202024" text-anchor="middle" font-weight="bold" textLength="23.9" lengthAdjust="spacingAndGlyphs">11392</text>
<text x="589.0" y="367.3" font-size="9.2" fill="#202024" text-anchor="middle" font-weight="bold" textLength="19.7" lengthAdjust="spacingAndGlyphs">8231</text>
<text x="638.6" y="382.8" font-size="9.2" fill="#202024" text-anchor="middle" font-weight="bold" textLength="19.2" lengthAdjust="spacingAndGlyphs">6158</text>
<text x="397.8" y="438.3" font-size="9.4" fill="#202024" text-anchor="middle" font-weight="bold" textLength="19.4" lengthAdjust="spacingAndGlyphs">3474</text>
<text x="449.8" y="438.3" font-size="9.4" fill="#202024" text-anchor="middle" font-weight="bold" textLength="19.4" lengthAdjust="spacingAndGlyphs">3410</text>
<text x="503.3" y="438.3" font-size="9.4" fill="#202024" text-anchor="middle" font-weight="bold" textLength="19.4" lengthAdjust="spacingAndGlyphs">3414</text>
<text x="556.3" y="438.3" font-size="9.4" fill="#202024" text-anchor="middle" font-weight="bold" textLength="19.4" lengthAdjust="spacingAndGlyphs">3154</text>
<text x="609.0" y="438.3" font-size="9.4" fill="#202024" text-anchor="middle" font-weight="bold" textLength="19.4" lengthAdjust="spacingAndGlyphs">2907</text>
<text x="661.9" y="438.9" font-size="9.4" fill="#202024" text-anchor="middle" font-weight="bold" textLength="19.4" lengthAdjust="spacingAndGlyphs">2425</text>
<text x="396.8" y="406.4" font-size="9.6" fill="#d22c30" text-anchor="middle" font-weight="bold" textLength="19.5" lengthAdjust="spacingAndGlyphs">3260</text>
<text x="453.0" y="407.5" font-size="9.6" fill="#d22c30" text-anchor="middle" font-weight="bold" textLength="19.5" lengthAdjust="spacingAndGlyphs">3224</text>
<text x="504.3" y="407.5" font-size="9.6" fill="#d22c30" text-anchor="middle" font-weight="bold" textLength="19.5" lengthAdjust="spacingAndGlyphs">3333</text>
<text x="556.3" y="408.3" font-size="9.6" fill="#d22c30" text-anchor="middle" font-weight="bold" textLength="19.5" lengthAdjust="spacingAndGlyphs">3048</text>
<text x="612.1" y="410.0" font-size="9.6" fill="#d22c30" text-anchor="middle" font-weight="bold" textLength="19.5" lengthAdjust="spacingAndGlyphs">2889</text>
<text x="662.6" y="411.9" font-size="9.6" fill="#d22c30" text-anchor="middle" font-weight="bold" textLength="19.5" lengthAdjust="spacingAndGlyphs">2433</text>
<rect x="425.1" y="362.4" width="38.7" height="15.7" rx="2.8" fill="#f2f2f5" stroke="#bd3a36" stroke-width="0.95"/>
<text x="444.5" y="372.5" font-size="6.4" fill="#27356e" text-anchor="middle" font-weight="bold">-2%</text>
<rect x="475.6" y="378.6" width="33.3" height="16.0" rx="2.8" fill="#f2f2f5" stroke="#bd3a36" stroke-width="0.95"/>
<text x="492.2" y="388.9" font-size="6.4" fill="#27356e" text-anchor="middle" font-weight="bold">+0,1%</text>
<rect x="532.3" y="375.4" width="30.8" height="16.3" rx="2.8" fill="#f2f2f5" stroke="#bd3a36" stroke-width="0.95"/>
<text x="547.7" y="385.8" font-size="6.4" fill="#27356e" text-anchor="middle" font-weight="bold">-8%</text>
<rect x="581.6" y="379.9" width="31.5" height="15.5" rx="2.8" fill="#f2f2f5" stroke="#bd3a36" stroke-width="0.95"/>
<text x="597.4" y="389.9" font-size="6.4" fill="#27356e" text-anchor="middle" font-weight="bold">-8%</text>
<rect x="646.8" y="387.7" width="30.1" height="15.6" rx="2.8" fill="#f2f2f5" stroke="#bd3a36" stroke-width="0.95"/>
<text x="661.8" y="397.8" font-size="6.4" fill="#27356e" text-anchor="middle" font-weight="bold">-17%</text>
<text x="387.6" y="462.3" font-size="9.3" fill="#2a3c72" text-anchor="middle" font-weight="bold" textLength="20.2" lengthAdjust="spacingAndGlyphs">2013</text>
<text x="441.1" y="462.3" font-size="9.3" fill="#2a3c72" text-anchor="middle" font-weight="bold" textLength="20.2" lengthAdjust="spacingAndGlyphs">2014</text>
<text x="494.1" y="462.3" font-size="9.3" fill="#2a3c72" text-anchor="middle" font-weight="bold" textLength="20.2" lengthAdjust="spacingAndGlyphs">2015</text>
<text x="546.1" y="462.3" font-size="9.3" fill="#2a3c72" text-anchor="middle" font-weight="bold" textLength="20.2" lengthAdjust="spacingAndGlyphs">2016</text>
<text x="598.8" y="462.3" font-size="9.3" fill="#2a3c72" text-anchor="middle" font-weight="bold" textLength="20.2" lengthAdjust="spacingAndGlyphs">2017</text>
<text x="651.8" y="462.3" font-size="9.3" fill="#2a3c72" text-anchor="middle" font-weight="bold" textLength="20.2" lengthAdjust="spacingAndGlyphs">2018</text>
<g opacity="0.63">
<polygon points="436.5,408.9 444.3,418.3 456.4,417.3 455.4,429.7 464.6,437.7 455.4,445.7 456.4,458.1 444.3,457.1 436.5,466.5 428.7,457.1 416.6,458.1 417.6,445.7 408.4,437.7 417.6,429.7 416.6,417.3 428.7,418.3" fill="#c4c5cc"/>
<ellipse cx="436.5" cy="437.7" rx="16" ry="16.5" fill="#cfd0d6"/>
</g><g opacity="0.8">
<path d="M427.4 425.8H445.2V439.4C445.2 445.0 439.9 447.6 436.3 449.2C432.7 447.6 427.4 445.0 427.4 439.4Z" fill="#1a2a60" stroke="#3a4a82" stroke-width="0.5"/>
<g transform="translate(436.30 428.14) scale(0.949 1.053)"><path d="M-5.4 1.2V11.4H-2.3C-2.2 9.2-2.7 7.4-4.1 6.1M5.4 1.2V11.4H2.3C2.2 9.2 2.700 7.4 4.1 6.1M0 0.4C-1 3.400-1.400 7-1.200 11.4H1.200C1.400 7 1 3.400 0 0.4ZM-3.300 11.4C-3.100 13.4-1.500 14.100 0 16C1.500 14.100 3.100 13.4 3.300 11.4M0 12.300V15" fill="none" stroke="#e2c544" stroke-width="1.25" stroke-linejoin="round" stroke-linecap="round"/></g>
</g>
<g opacity="0.55" fill="#fff" font-weight="bold">
<text x="481.2" y="428.1" font-size="18.9" textLength="170.6" lengthAdjust="spacingAndGlyphs">НАЦІОНАЛЬНА</text>
<text x="481.2" y="463.4" font-size="38" stroke="#fff" stroke-width="1.4" textLength="170.6" lengthAdjust="spacingAndGlyphs">ПОЛІЦІЯ</text>
</g>
<text x="449.8" y="438.3" font-size="9.4" fill="#202024" text-anchor="middle" font-weight="bold" textLength="19.4" lengthAdjust="spacingAndGlyphs" opacity="0.45">3410</text>
<text x="441.1" y="462.3" font-size="9.3" fill="#2a3c72" text-anchor="middle" font-weight="bold" textLength="20.2" lengthAdjust="spacingAndGlyphs" opacity="0.5">2014</text>
</svg>
</body></html>
